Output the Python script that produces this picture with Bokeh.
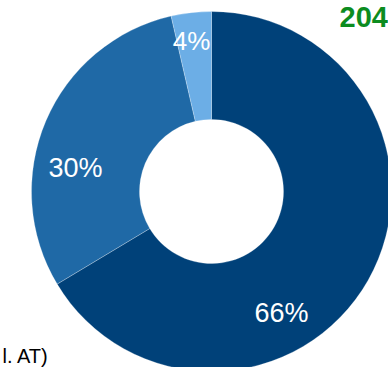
import numpy as np
from bokeh.plotting import figure
from bokeh.models import Range1d, ColumnDataSource
from bokeh.core.properties import value
from bokeh.embed import file_html
from bokeh.resources import INLINE

# ---- data ----
categories = ["A", "B", "C"]
shares = [66.4, 30.0, 3.6]
labels = ["66%", "30%", "4%"]
colors = ["#004179", "#1F69A6", "#6CAEE6"]
title_text = "204"
note_text = "l. AT)"

# ---- layout (screen-pixel style positions) ----
W, H = 388, 367
cx, cy = 211, H - 191
r_out, r_in = 180, 72
label_pos = [(281, H - 312), (75, H - 167), (191, H - 40)]
label_sizes = ["27px", "27px", "26px"]

frac = np.array(shares) / np.sum(shares)
c1 = np.cumsum(frac)
c0 = c1 - frac
start = np.deg2rad(90 - c1 * 360)
end = np.deg2rad(90 - c0 * 360)

p = figure(width=W, height=H, output_backend="svg", toolbar_location=None,
           x_range=Range1d(0, W), y_range=Range1d(0, H),
           min_border=0, outline_line_color=None)
p.axis.visible = False
p.grid.visible = False
p.background_fill_color = "white"
p.border_fill_color = "white"

src = ColumnDataSource(dict(cat=categories, start=start, end=end, color=colors))
p.annular_wedge(x=cx, y=cy, inner_radius=r_in, outer_radius=r_out,
                start_angle="start", end_angle="end", fill_color="color",
                line_color="white", line_width=0.5, line_alpha=0.5, source=src)

lsrc = ColumnDataSource(dict(x=[q[0] for q in label_pos], y=[q[1] for q in label_pos],
                             t=labels, s=label_sizes))
p.text(x="x", y="y", text="t", source=lsrc, text_font=value("Liberation Sans"),
       text_font_size="s", text_color="white", text_align="center",
       text_baseline="middle")

p.text(x=[339], y=[H - 16], text=[title_text], text_font=value("Liberation Sans"),
       text_font_size="29px", text_font_style="bold", text_color="#0C8C1F",
       text_align="left", text_baseline="middle")

p.text(x=[2], y=[H - 355], text=[note_text], text_font=value("Liberation Sans"),
       text_font_size="20px", text_color="black",
       text_align="left", text_baseline="middle")

open("out.html", "w").write(file_html(p, INLINE))
